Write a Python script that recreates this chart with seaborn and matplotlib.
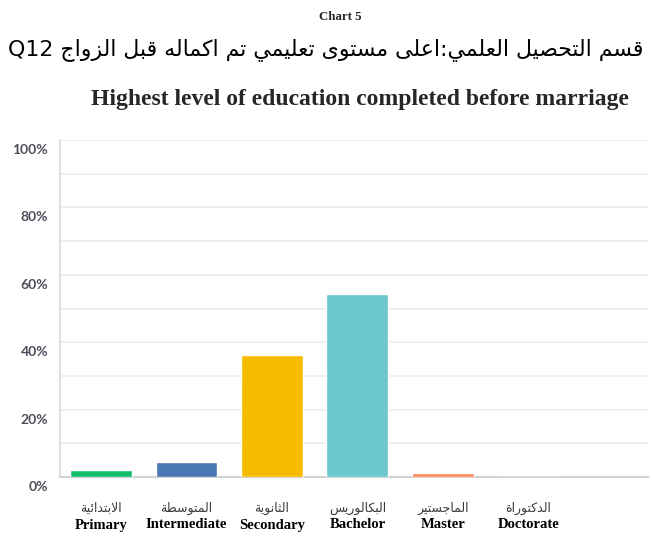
import matplotlib
matplotlib.use("Agg")
import matplotlib.pyplot as plt
import matplotlib.transforms as mtransforms
import pandas as pd
import seaborn as sns

# data
labels_en = ["Primary", "Intermediate", "Secondary", "Bachelor", "Master", "Doctorate"]
labels_ar = ["الابتدائية", "المتوسطة", "الثانوية", "البكالوريس", "الماجستير", "الدكتوراة"]
shares = [2.0, 4.4, 36.1, 54.4, 1.1, 0.0]
colors = ["#14BE6E", "#4A78B4", "#F7BC00", "#6CC8CC", "#FB8A55", "#9A9A9A"]

title_ar = "قسم التحصيل العلمي:اعلى مستوى تعليمي تم اكماله قبل الزواج"
title_q = "Q12"
subtitle = "Highest level of education completed before marriage"
chart_no = "Chart 5"

# matplotlib has no arabic shaping, so map letters to presentation forms
FORMS = {
    "ء": (0xFE80, 1), "آ": (0xFE81, 2), "أ": (0xFE83, 2), "ؤ": (0xFE85, 2),
    "إ": (0xFE87, 2), "ئ": (0xFE89, 4), "ا": (0xFE8D, 2), "ب": (0xFE8F, 4),
    "ة": (0xFE93, 2), "ت": (0xFE95, 4), "ث": (0xFE99, 4), "ج": (0xFE9D, 4),
    "ح": (0xFEA1, 4), "خ": (0xFEA5, 4), "د": (0xFEA9, 2), "ذ": (0xFEAB, 2),
    "ر": (0xFEAD, 2), "ز": (0xFEAF, 2), "س": (0xFEB1, 4), "ش": (0xFEB5, 4),
    "ص": (0xFEB9, 4), "ض": (0xFEBD, 4), "ط": (0xFEC1, 4), "ظ": (0xFEC5, 4),
    "ع": (0xFEC9, 4), "غ": (0xFECD, 4), "ف": (0xFED1, 4), "ق": (0xFED5, 4),
    "ك": (0xFED9, 4), "ل": (0xFEDD, 4), "م": (0xFEE1, 4), "ن": (0xFEE5, 4),
    "ه": (0xFEE9, 4), "و": (0xFEED, 2), "ى": (0xFEEF, 2), "ي": (0xFEF1, 4),
}
LAM_ALEF = {"ا": 0xFEFB, "أ": 0xFEF7, "إ": 0xFEF9, "آ": 0xFEF5}


def shape_ar(text: str) -> str:
    out = []
    prev_dual = False
    i = 0
    while i < len(text):
        c = text[i]
        if c not in FORMS:
            out.append(c)
            prev_dual = False
            i += 1
            continue
        if c == "ل" and i + 1 < len(text) and text[i + 1] in LAM_ALEF:
            out.append(chr(LAM_ALEF[text[i + 1]] + (1 if prev_dual else 0)))
            prev_dual = False
            i += 2
            continue
        base, k = FORMS[c]
        nxt = i + 1 < len(text) and text[i + 1] in FORMS and text[i + 1] != "ء"
        if k == 4:
            f = 3 if (prev_dual and nxt) else 1 if prev_dual else 2 if nxt else 0
        elif k == 2:
            f = 1 if prev_dual else 0
        else:
            f = 0
        out.append(chr(base + f))
        prev_dual = k == 4
        i += 1
    return "".join(reversed(out))


sns.set_theme(style="white")
plt.rcParams["font.family"] = ["DejaVu Sans"]

W, H = 652, 536
fig = plt.figure(figsize=(W / 100, H / 100), dpi=100)
ax = fig.add_axes([60 / W, 1 - 477 / H, (648 - 60) / W, (477 - 140) / H])

df = pd.DataFrame({"level": labels_en, "share": shares})
sns.barplot(data=df, x="level", y="share", hue="level", palette=colors,
            legend=False, width=0.725, saturation=1, ax=ax, zorder=3)

ax.set_xlim(-0.48, 6.40)
ax.set_ylim(0, 100)
ax.set_yticks(range(0, 101, 20))
ax.set_yticks(range(10, 100, 20), minor=True)
ax.set_yticklabels([f"{v}%" for v in range(0, 101, 20)],
                   fontsize=10, color="#4d4f5c", fontweight="bold", family="Lato")
ax.grid(axis="y", which="both", color="#ececec", lw=1.2, zorder=0)
ax.tick_params(axis="y", which="both", length=0, pad=8.6)
ax.tick_params(axis="x", length=0)
off = mtransforms.ScaledTranslation(0, -9 / 100, fig.dpi_scale_trans)
for t in ax.get_yticklabels():
    t.set_transform(t.get_transform() + off)
ax.set_xticklabels([])
ax.set_xlabel("")
ax.set_ylabel("")
for s in ["top", "right"]:
    ax.spines[s].set_visible(False)
ax.spines["left"].set_color("#dcdcdc")
ax.spines["bottom"].set_color("#d2d2d2")
ax.spines["bottom"].set_linewidth(1.5)

# two-line category labels: arabic above, english below
tr = ax.get_xaxis_transform()
for i, (en, ar) in enumerate(zip(labels_en, labels_ar)):
    ax.text(i, -31 / 337, shape_ar(ar), transform=tr, ha="center", va="center",
            fontsize=9, color="#3c3c3c", family="DejaVu Sans")
    ax.text(i, -48 / 337, en, transform=tr, ha="center", va="center",
            fontsize=10.5, fontweight="bold", family="Liberation Serif", color="black")

fig.text(340 / W, 1 - 17 / H, chart_no, ha="center", va="center",
         fontsize=9.3, fontweight="bold", family="Liberation Serif")
title = fig.text(326 / W, 1 - 50 / H, title_q + " " + shape_ar(title_ar), ha="center",
                 va="center", fontsize=20, family="DejaVu Sans", color="black")
# shrink the arabic title so it spans the same width as in the reference
renderer = fig.canvas.get_renderer()
w = title.get_window_extent(renderer).width
title.set_fontsize(20 * 638 / w)
fig.text(360 / W, 1 - 100 / H, subtitle, ha="center", va="center",
         fontsize=17, fontweight="bold", family="Liberation Serif")

fig.savefig("out.png", dpi=100)
